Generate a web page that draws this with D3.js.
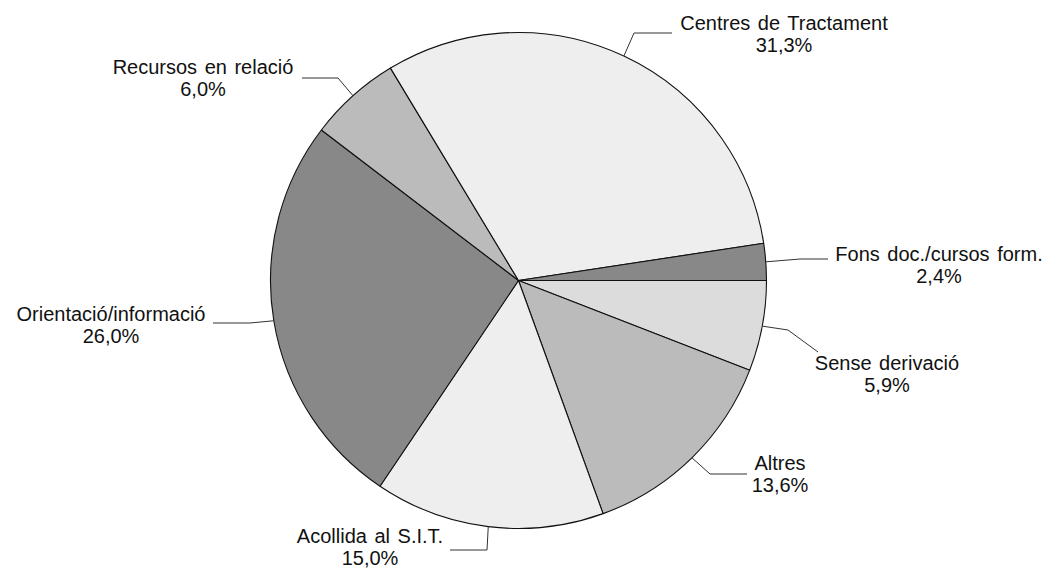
<!DOCTYPE html>
<html>
<head>
<meta charset="utf-8">
<script src="https://cdn.jsdelivr.net/npm/d3@7/dist/d3.min.js"></script>
<style>
  html, body { margin: 0; padding: 0; background: #fff; }
  svg text { font-family: "Liberation Sans", Arial, Helvetica, sans-serif; font-size: 20px; fill: #111; word-spacing: 2px; }
</style>
</head>
<body>
<svg id="chart" width="1049" height="570"></svg>
<script>
// Categories in drawing order, clockwise from 3 o'clock
const categories = [
  "Sense derivació",
  "Altres",
  "Acollida al S.I.T.",
  "Orientació/informació",
  "Recursos en relació",
  "Centres de Tractament",
  "Fons doc./cursos form."
];
const values = [5.9, 13.6, 15.0, 26.0, 6.0, 31.3, 2.4];
const valueLabels = ["5,9%", "13,6%", "15,0%", "26,0%", "6,0%", "31,3%", "2,4%"];

// Slice fills
const fills = ["#dcdcdc", "#bbbbbb", "#eeeeee", "#888888", "#bbbbbb", "#eeeeee", "#888888"];

// Label placement: leader elbow, leader end, text centre and first baseline
const labelLayout = [
  { elbow: [788, 330], end: [818, 352], tx: 887, ty: 370 },
  { elbow: [710, 474], end: [747, 474], tx: 780, ty: 470 },
  { elbow: [487, 550], end: [450, 550], tx: 370, ty: 543 },
  { elbow: [250, 323], end: [213, 323], tx: 111, ty: 321 },
  { elbow: [338, 78],  end: [302, 78],  tx: 203, ty: 74 },
  { elbow: [634, 33],  end: [672, 33],  tx: 784, ty: 30 },
  { elbow: [800, 259], end: [828, 259], tx: 939, ty: 261 }
];
const lineGap = 22;

const cx = 518.5, cy = 280.5, radius = 248;

const svg = d3.select("#chart");
const g = svg.append("g").attr("transform", `translate(${cx},${cy})`);

const pie = d3.pie()
  .value(d => d.value)
  .sort(null)
  .startAngle(Math.PI / 2)
  .endAngle(Math.PI / 2 + 2 * Math.PI);

const data = categories.map((c, i) => ({ name: c, value: values[i], label: valueLabels[i], fill: fills[i], layout: labelLayout[i] }));
const arcs = pie(data);

const arc = d3.arc().innerRadius(0).outerRadius(radius);

g.selectAll("path.slice")
  .data(arcs)
  .join("path")
  .attr("class", "slice")
  .attr("d", arc)
  .attr("fill", d => d.data.fill)
  .attr("stroke", "#111")
  .attr("stroke-width", 1.1)
  .attr("stroke-linejoin", "round");

// Leader lines start on the rim at each slice's mid angle
const rim = d3.arc().innerRadius(radius).outerRadius(radius);
svg.selectAll("polyline.leader")
  .data(arcs)
  .join("polyline")
  .attr("class", "leader")
  .attr("fill", "none")
  .attr("stroke", "#333")
  .attr("stroke-width", 1)
  .attr("points", d => {
    const [x, y] = rim.centroid(d);
    const L = d.data.layout;
    return [[x + cx, y + cy], L.elbow, L.end].map(p => p.join(",")).join(" ");
  });

const labels = svg.selectAll("g.label")
  .data(arcs)
  .join("g")
  .attr("class", "label");

labels.append("text")
  .attr("x", d => d.data.layout.tx)
  .attr("y", d => d.data.layout.ty)
  .attr("text-anchor", "middle")
  .text(d => d.data.name);

labels.append("text")
  .attr("x", d => d.data.layout.tx)
  .attr("y", d => d.data.layout.ty + lineGap)
  .attr("text-anchor", "middle")
  .text(d => d.data.label);
</script>
</body>
</html>
